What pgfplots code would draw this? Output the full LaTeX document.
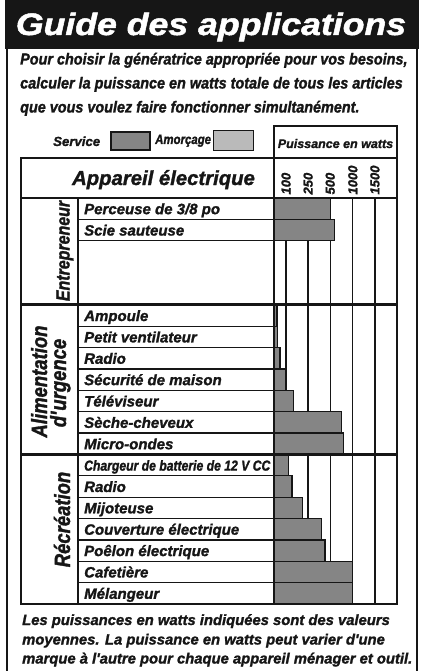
\documentclass[border=0pt]{standalone}
\usepackage{fontspec}
\setmainfont{Liberation Sans}[BoldItalicFeatures={FakeBold=1.4}]
\newfontfamily\cond{Liberation Sans}[FakeStretch=0.84, BoldItalicFeatures={FakeBold=1.4}]
\newfontfamily\semicond{Liberation Sans}[FakeStretch=0.9, BoldItalicFeatures={FakeBold=1.4}]
\newfontfamily\wide{Liberation Sans}[FakeStretch=1.15, BoldItalicFeatures={FakeBold=1.6}]
\usepackage{pgfplots}
\pgfplotsset{compat=1.18}

\definecolor{service}{RGB}{133,133,133}
\definecolor{amorcage}{RGB}{186,186,186}
\definecolor{ink}{RGB}{22,22,22}

\newcommand\bi{\bfseries\itshape}
\newcommand\fs[1]{\fontsize{#1}{#1}\selectfont}
\def\p{21.368}

\begin{document}
\begin{tikzpicture}[x=1pt,y=-1pt]
\path[use as bounding box] (0,0) rectangle (420,671);
\fill[white] (0,0) rectangle (420,671);

%% title band and frame
\fill[ink] (5,0) rectangle (419,49);
\node[anchor=base, white, font=\wide\bi\fs{31}] at (211,35) {Guide des applications};
\draw[ink, line width=1.5pt] (7,49) -- (7,671) (417,49) -- (417,671);

%% intro text
\begin{scope}[every node/.style={anchor=base west, inner sep=0pt, font=\semicond\bi\fs{16}, ink}]
\node at (20,64.5) {Pour choisir la génératrice appropriée pour vos besoins,};
\node at (20,88.5) {calculer la puissance en watts totale de tous les articles};
\node at (20,112.5) {que vous voulez faire fonctionner simultanément.};
\end{scope}

%% legend
\node[anchor=base west, inner sep=0pt, font=\bi\fs{13.2}, ink] at (53,146) {Service};
\filldraw[fill=service, draw=ink, line width=1.2pt] (111,132) rectangle (150,150);
\node[anchor=base west, inner sep=0pt, font=\cond\bi\fs{13.6}, ink] at (155,144) {Amorçage};
\filldraw[fill=amorcage, draw=ink, line width=1pt] (213,131) rectangle (253,151);

%% chart: watt scale is piecewise linear (100/250/500/1000/1500 evenly spaced)
\begin{scope}[x=1pt,y=1pt]
\begin{axis}[
  at={(274pt,-604pt)}, anchor=south west,
  scale only axis, width=123pt, height=406pt,
  xmin=0, xmax=2000, ymin=-0.5, ymax=18.5,
  y dir=reverse, enlargelimits=false,
  x coord trafo/.code={\pgfmathparse{(#1<=100) ? (#1*0.12) : ((#1<=250) ? (12+(#1-100)/150*22) : ((#1<=500) ? (34+(#1-250)/250*22) : ((#1<=1000) ? (56+(#1-500)/500*22.5) : (78.5+(#1-1000)/500*22))))}},
  xtick={100,250,500,1000,1500},
  xticklabels={100,250,500,1000,1500},
  xticklabel pos=upper,
  xticklabel style={rotate=90, anchor=west, font=\bi\fs{13}, text=ink},
  ytick={0,1,5,6,7,8,9,10,11,12,13,14,15,16,17,18},
  yticklabels={Perceuse de 3/8 po, Scie sauteuse, Ampoule, Petit ventilateur, Radio,
    Sécurité de maison, Téléviseur, Sèche-cheveux, Micro-ondes,
    {\cond\fs{14.5}Chargeur de batterie de 12 V CC}, Radio, Mijoteuse,
    Couverture électrique, Poêlon électrique, Cafetière, Mélangeur},
  yticklabel style={anchor=base west, inner sep=0pt, xshift=-190pt, yshift=-5.5pt,
    font=\bi\fs{15}, text=ink},
  major tick length=0pt,
  xmajorgrids,
  major grid style={ink, line width=1.3pt},
  axis line style={ink, line width=2.6pt},
  xbar, bar width=1,
]
\addplot[fill=service, draw=ink, line width=1.2pt] coordinates {
  (500,0) (600,1)
  (25,5) (30,6) (50,7) (100,8) (150,9) (750,10) (800,11)
  (115,12) (140,13) (210,14) (400,15) (440,16) (1000,17) (990,18)
};
\end{axis}
\end{scope}

%% table frame
\begin{scope}[ink]
\foreach \k in {1,2,6,7,8,9,10,11,13,14,15,16,17,18}
  \draw[line width=1.3pt] (78,198+\k*\p) -- (274,198+\k*\p);
\draw[line width=2.2pt] (78,198) -- (78,604);
\draw[line width=2.8pt] (21,198+5*\p) -- (397,198+5*\p)
                        (21,198+12*\p) -- (397,198+12*\p);
\draw[line width=2.8pt] (21,198) -- (397,198) (274,158) -- (274,604);
\draw[line width=2.8pt] (21,158) rectangle (397,604);
\draw[line width=2.8pt] (274,126) rectangle (397,158);
\end{scope}

\node[anchor=base, font=\bi\fs{12.5}, ink] at (335.5,148) {Puissance en watts};
\node[anchor=base, font=\bi\fs{20.3}, ink] at (163.5,185) {Appareil électrique};

%% section labels
\node[rotate=90, anchor=base, inner sep=0pt, font=\cond\bi\fs{19}, ink] at (69.5,251) {Entrepreneur};
\node[rotate=90, anchor=base, inner sep=0pt, font=\cond\bi\fs{22}, ink] at (47,381.5) {Alimentation};
\node[rotate=90, anchor=base, inner sep=0pt, font=\cond\bi\fs{22}, ink] at (66,383) {d\textquotesingle urgence};
\node[rotate=90, anchor=base, inner sep=0pt, font=\cond\bi\fs{22}, ink] at (70,519.5) {Récréation};

%% note
\begin{scope}[every node/.style={anchor=base west, inner sep=0pt, font=\bi\fs{14.8}, ink}]
\node at (22,625) {Les puissances en watts indiquées sont des valeurs};
\node at (22,644.5) {moyennes. La puissance en watts peut varier d\textquotesingle une};
\node at (22,663.5) {marque à l\textquotesingle autre pour chaque appareil ménager et outil.};
\end{scope}
\end{tikzpicture}
\end{document}
